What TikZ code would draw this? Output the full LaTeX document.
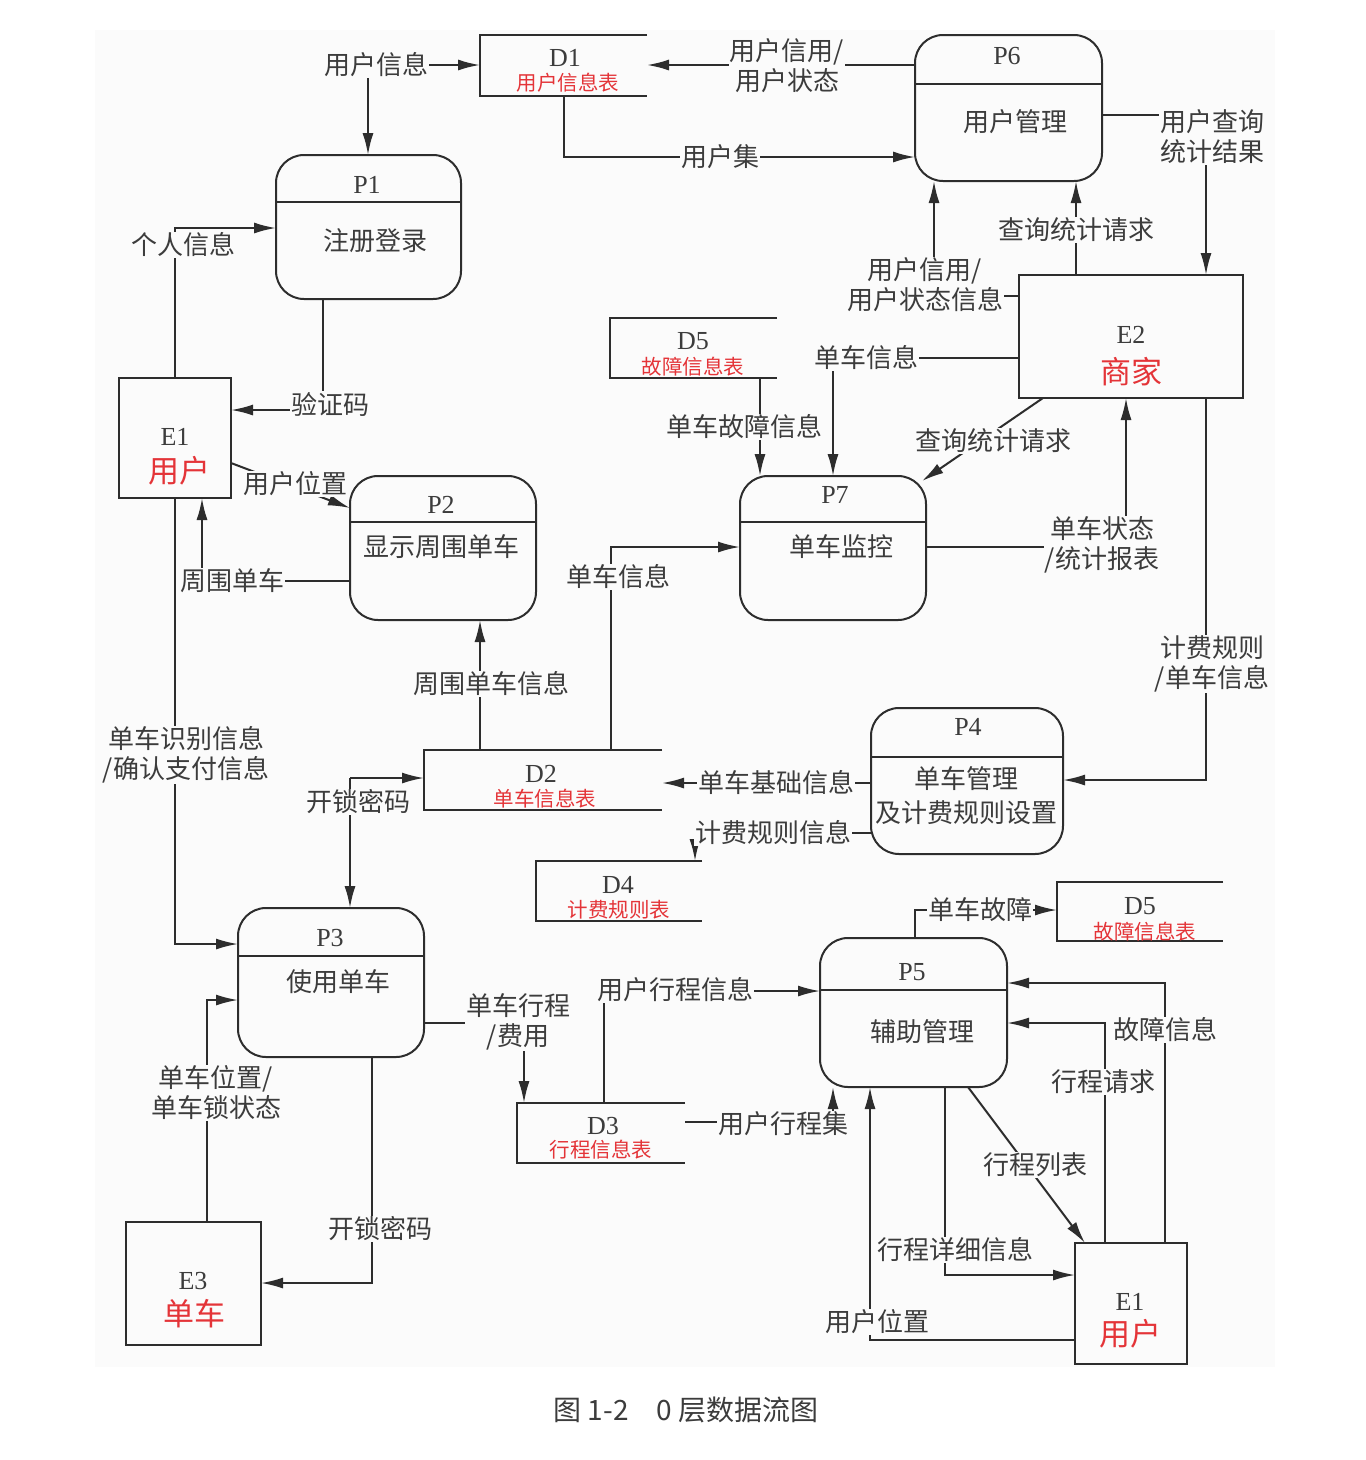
\documentclass[tikz,border=0pt]{standalone}
\usepackage{fontspec}
\setmainfont{Liberation Serif}
\newfontfamily\cjk{Noto Sans CJK SC}
\usetikzlibrary{arrows.meta}
\definecolor{bgc}{RGB}{251,251,251}
\definecolor{ink}{RGB}{45,45,45}
\definecolor{txt}{RGB}{60,60,60}
\definecolor{redt}{RGB}{228,52,56}
\tikzset{
  line/.style={draw=ink, line width=2pt},
  flow/.style={line, -{Latex[length=22pt,width=11pt]}},
  proc/.style={draw=ink, line width=2pt, rounded corners=28pt, inner sep=0pt, outer sep=0pt},
  ext/.style={draw=ink, line width=2pt, inner sep=0pt, outer sep=0pt},
  store/.style={inner sep=0pt, outer sep=0pt},
  lbl/.style={fill=bgc, inner sep=1pt, text=txt, align=center, font=\cjk\fontsize{26}{30}\selectfont},
  inner/.style={inner sep=0pt, text=txt, align=center, font=\cjk\fontsize{26}{34}\selectfont},
  idt/.style={inner sep=0pt, text=txt, font=\fontsize{26}{28}\selectfont},
  redsm/.style={inner sep=0pt, text=redt, font=\cjk\fontsize{20.5}{21}\selectfont},
  redbig/.style={inner sep=0pt, text=redt, font=\cjk\fontsize{31}{32}\selectfont},
}
\begin{document}
\begin{tikzpicture}[x=1pt,y=-1pt]
\useasboundingbox (0,0) rectangle (1366,1460);
\fill[white] (0,0) rectangle (1366,1460);
\fill[bgc] (95,30) rectangle (1275,1367);

% ---------- processes ----------
\node[proc, minimum width=187pt, minimum height=146pt] (p6) at (1008.5,108) {};
\node[proc, minimum width=185pt, minimum height=144pt] (p1) at (368.5,227) {};
\node[proc, minimum width=186pt, minimum height=144pt] (p7) at (833,548) {};
\node[proc, minimum width=186pt, minimum height=144pt] (p2) at (443,548) {};
\node[proc, minimum width=192pt, minimum height=146pt] (p4) at (967,781) {};
\node[proc, minimum width=186pt, minimum height=149pt] (p3) at (331,982.5) {};
\node[proc, minimum width=187pt, minimum height=149pt] (p5) at (913.5,1012.5) {};
\draw[line] (p6.west |- 0,84) -- (p6.east |- 0,84);
\draw[line] (p1.west |- 0,202) -- (p1.east |- 0,202);
\draw[line] (p7.west |- 0,522) -- (p7.east |- 0,522);
\draw[line] (p2.west |- 0,522) -- (p2.east |- 0,522);
\draw[line] (p4.west |- 0,757) -- (p4.east |- 0,757);
\draw[line] (p3.west |- 0,956) -- (p3.east |- 0,956);
\draw[line] (p5.west |- 0,990) -- (p5.east |- 0,990);

% ---------- external entities ----------
\node[ext, minimum width=112pt, minimum height=120pt] (e1) at (175,438) {};
\node[ext, minimum width=224pt, minimum height=123pt] (e2) at (1131,336.5) {};
\node[ext, minimum width=135pt, minimum height=123pt] (e3) at (193.5,1283.5) {};
\node[ext, minimum width=112pt, minimum height=121pt] (e1b) at (1131,1303.5) {};

% ---------- data stores ----------
\node[store, minimum width=167pt, minimum height=61pt] (d1) at (563.5,65.5) {};
\node[store, minimum width=167pt, minimum height=60pt] (d5) at (693.5,348) {};
\node[store, minimum width=238pt, minimum height=60pt] (d2) at (543,780) {};
\node[store, minimum width=166pt, minimum height=60pt] (d4) at (619,891) {};
\node[store, minimum width=166pt, minimum height=59pt] (d5b) at (1140,911.5) {};
\node[store, minimum width=168pt, minimum height=60pt] (d3) at (601,1133) {};
\foreach \d in {d1,d5,d2,d4,d5b,d3}{
  \draw[line] (\d.north east) -- (\d.north west) -- (\d.south west) -- (\d.south east);
}

% ---------- texts in boxes ----------
\node[idt] (tp6) at (1007,56) {P6};
\node[inner] (np6) at (1015,122) {用户管理};
\node[idt] (tp1) at (367,185) {P1};
\node[inner] (np1) at (375,241) {注册登录};
\node[idt] (tp7) at (835,495) {P7};
\node[inner] (np7) at (841,547) {单车监控};
\node[idt] (tp2) at (441,505) {P2};
\node[inner] (np2) at (441,547) {显示周围单车};
\node[idt] (tp4) at (968,727) {P4};
\node[inner] (np4) at (966,796) {单车管理\\及计费规则设置};
\node[idt] (tp3) at (330,938) {P3};
\node[inner] (np3) at (338,982) {使用单车};
\node[idt] (tp5) at (912,972) {P5};
\node[inner] (np5) at (922,1032) {辅助管理};

\node[idt] (te1) at (175,437) {E1};
\node[redbig] (ne1) at (179,471) {用户};
\node[idt] (te2) at (1131,335) {E2};
\node[redbig] (ne2) at (1131,372) {商家};
\node[idt] (te3) at (193,1281) {E3};
\node[redbig] (ne3) at (194,1314) {单车};
\node[idt] (te1b) at (1130,1302) {E1};
\node[redbig] (ne1b) at (1130,1334) {用户};

\node[idt] (td1) at (565,58) {D1};
\node[redsm] (nd1) at (568,83) {用户信息表};
\node[idt] (td5) at (693,341) {D5};
\node[redsm] (nd5) at (693,367) {故障信息表};
\node[idt] (td2) at (541,774) {D2};
\node[redsm] (nd2) at (545,799) {单车信息表};
\node[idt] (td4) at (618,885) {D4};
\node[redsm] (nd4) at (619,910) {计费规则表};
\node[idt] (td5b) at (1140,906) {D5};
\node[redsm] (nd5b) at (1145,932) {故障信息表};
\node[idt] (td3) at (603,1126) {D3};
\node[redsm] (nd3) at (601,1150) {行程信息表};

% ---------- connectors ----------
\node[lbl] (l1) at (376,65) {用户信息};
\draw[flow] (l1.east) -- (l1.east -| d1.west);
\draw[flow] ([xshift=-8pt]l1.south) -- ([xshift=-8pt]l1.south |- p1.north);

\draw[flow] (p6.west |- 0,65) -- (d1.east |- 0,65);
\draw[flow] (d1.south) |- (p6.west |- 0,157);
\draw[flow] (p6.east |- 0,115) -| (1206,0 |- e2.north);
\draw[flow] (1076,0 |- e2.north) -- (1076,0 |- p6.south);
\draw[flow] (e2.west |- 0,296) -| (934,0 |- p6.south);
\draw[flow] (e2.west |- 0,358) -| (833,0 |- p7.north);
\draw[flow] (760,0 |- d5.south) -- (760,0 |- p7.north);
\draw[flow] (1043,0 |- e2.south) -- ([shift={(-4,5)}]p7.north east);
\draw[flow] (p7.east |- 0,547) -| (1126,0 |- e2.south);
\draw[flow] (1206,0 |- e2.south) |- (p4.east |- 0,780);
\draw[flow] (323,0 |- p1.south) |- (e1.east |- 0,410);
\draw[flow] (175,0 |- e1.north) |- (p1.west |- 0,228);
\draw[flow] (e1.east |- 0,463) -- (p2.west |- 0,508);
\draw[flow] (p2.west |- 0,581) -| (202,0 |- e1.south);
\draw[flow] (175,0 |- e1.south) |- (p3.west |- 0,944);
\draw[flow] (480,0 |- d2.north) -- (480,0 |- p2.south);
\draw[flow] (611,0 |- d2.north) |- (p7.west |- 0,547);
\draw[flow] (p4.west |- 0,783) -- (d2.east |- 0,783);
\draw[flow] (p4.west |- 0,833) -| (695,0 |- d4.north);
\coordinate (c21) at (350,778);
\draw[flow] (c21) -- (c21 -| d2.west);
\draw[flow] (c21) -- (c21 |- p3.north);
\draw[flow] (372,0 |- p3.south) |- (e3.east |- 0,1283);
\draw[flow] (207,0 |- e3.north) |- (p3.west |- 0,1000);
\draw[flow] (p3.east |- 0,1023) -| (524,0 |- d3.north);
\draw[flow] (604,0 |- d3.north) |- (p5.west |- 0,991);
\draw[flow] (d3.east |- 0,1122) -| (833,0 |- p5.south);
\draw[flow] (e1b.west |- 0,1340) -| (870,0 |- p5.south);
\draw[flow] (945,0 |- p5.south) |- (e1b.west |- 0,1275);
\draw[flow] (968,0 |- p5.south) -- (1085,0 |- e1b.north);
\draw[flow] (1105,0 |- e1b.north) |- (p5.east |- 0,1023);
\draw[flow] (1165,0 |- e1b.north) |- (p5.east |- 0,983);
\draw[flow] (915,0 |- p5.north) |- (d5b.west |- 0,910);

% ---------- connector labels ----------
\node[lbl] (l2) at (787,66) {用户信用/\\用户状态};
\node[lbl] (l3) at (720,157) {用户集};
\node[lbl] (l4) at (1212,137) {用户查询\\统计结果};
\node[lbl] (l5) at (1076,230) {查询统计请求};
\node[lbl] (l6) at (925,285) {用户信用/\\用户状态信息};
\node[lbl] (l7) at (866,358) {单车信息};
\node[lbl] (l8) at (744,427) {单车故障信息};
\node[lbl] (l9) at (993,441) {查询统计请求};
\node[lbl] (l10) at (1102,545) {单车状态\\/统计报表};
\node[lbl] (l11) at (1212,664) {计费规则\\/单车信息};
\node[lbl] (l12) at (330,404) {验证码};
\node[lbl] (l13) at (183,245) {个人信息};
\node[lbl] (l14) at (295,484) {用户位置};
\node[lbl] (l15) at (232,581) {周围单车};
\node[lbl] (l16) at (186,755) {单车识别信息\\/确认支付信息};
\node[lbl] (l17) at (491,684) {周围单车信息};
\node[lbl] (l18) at (618,577) {单车信息};
\node[lbl] (l19) at (776,783) {单车基础信息};
\node[lbl] (l20) at (773,833) {计费规则信息};
\node[lbl] (l21) at (358,802) {开锁密码};
\node[lbl] (l22) at (380,1229) {开锁密码};
\node[lbl] (l23) at (216,1093) {单车位置/\\单车锁状态};
\node[lbl] (l24) at (518,1022) {单车行程\\/费用};
\node[lbl] (l25) at (675,990) {用户行程信息};
\node[lbl] (l26) at (783,1124) {用户行程集};
\node[lbl] (l27) at (877,1322) {用户位置};
\node[lbl] (l28) at (955,1250) {行程详细信息};
\node[lbl] (l29) at (1035,1165) {行程列表};
\node[lbl] (l30) at (1103,1082) {行程请求};
\node[lbl] (l31) at (1165,1030) {故障信息};
\node[lbl] (l32) at (980,910) {单车故障};

% ---------- caption ----------
\node[inner sep=0pt, text=txt, font=\cjk\fontsize{28}{30}\selectfont] (cap) at (686,1410) {图 1-2\hspace{1em}0 层数据流图};
\end{tikzpicture}
\end{document}
